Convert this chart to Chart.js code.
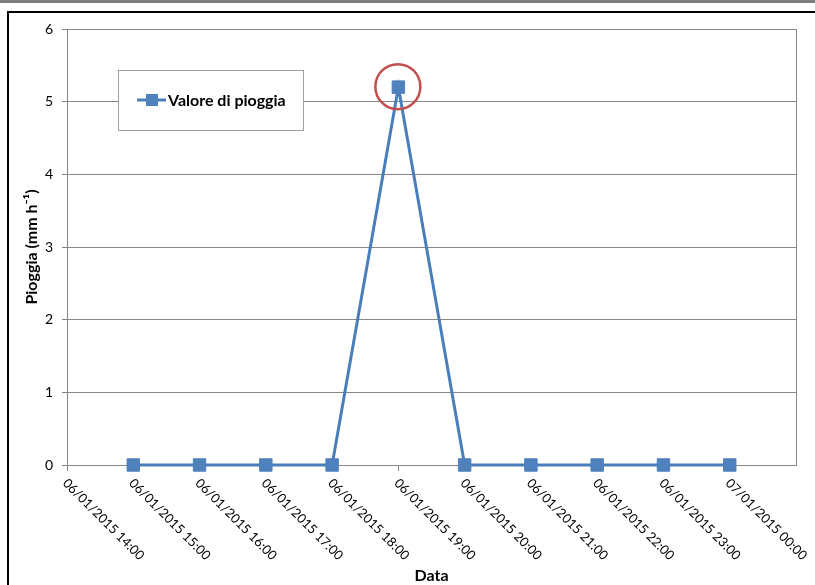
<!DOCTYPE html>
<html>
<head>
<meta charset="utf-8">
<script src="https://cdn.jsdelivr.net/npm/chart.js@4/dist/chart.umd.min.js"></script>
<style>
  html, body { margin: 0; padding: 0; background: #fff; }
  #wrap { position: relative; width: 815px; height: 585px; overflow: hidden; }
  #c { position: absolute; left: 0; top: 0; }
  .bar { position: absolute; left: 0; top: 0; width: 815px; height: 3px; background: #7f7f7f; }
  .frameTop { position: absolute; left: 7px; top: 11px; width: 808px; height: 2px; background: #000; }
  .frameLeft { position: absolute; left: 7px; top: 11px; width: 2px; height: 574px; background: #000; }
</style>
</head>
<body>
<div id="wrap">
  <canvas id="c" width="815" height="585"></canvas>
  <div class="bar"></div>
  <div class="frameTop"></div>
  <div class="frameLeft"></div>
</div>
<script>
// ---- data ----
const timeLabels = [
  '06/01/2015 14:00', '06/01/2015 15:00', '06/01/2015 16:00', '06/01/2015 17:00',
  '06/01/2015 18:00', '06/01/2015 19:00', '06/01/2015 20:00', '06/01/2015 21:00',
  '06/01/2015 22:00', '06/01/2015 23:00', '07/01/2015 00:00'
];
const rainValues = [null, 0, 0, 0, 0, 5.2, 0, 0, 0, 0, 0];
const seriesName = 'Valore di pioggia';
const yTitle = 'Pioggia (mm h\u207B\u00B9)';
const xTitle = 'Data';
const yTicks = [0, 1, 2, 3, 4, 5, 6];

const FONT = 'Lato, Carlito, Calibri, "Liberation Sans", sans-serif';
const LINE = '#4a7ebb';
const MARK = '#4f81bd';
const GRID = '#868686';

const points = rainValues.map((v, i) => ({ x: i, y: v }));

const xLabelsPlugin = {
  id: 'xLabels',
  afterDraw(chart) {
    const xs = chart.scales.x;
    const ctx = chart.ctx;
    ctx.save();
    ctx.font = '13px ' + FONT;
    ctx.fillStyle = '#000';
    ctx.textAlign = 'left';
    ctx.textBaseline = 'middle';
    timeLabels.forEach((lab, i) => {
      const x = xs.getPixelForValue(i);
      ctx.save();
      ctx.translate(x - 2, xs.top + 16);
      ctx.rotate(Math.PI / 4);
      ctx.fillText(lab, 0, 0);
      ctx.restore();
    });
    ctx.restore();
  }
};

const frameAndHighlight = {
  id: 'frameAndHighlight',
  beforeDatasetsDraw(chart) {
    const a = chart.chartArea;
    const ctx = chart.ctx;
    ctx.save();
    ctx.strokeStyle = GRID;
    ctx.lineWidth = 1;
    ctx.beginPath();
    ctx.moveTo(Math.round(a.right) + 0.5, a.top);
    ctx.lineTo(Math.round(a.right) + 0.5, a.bottom);
    ctx.stroke();
    ctx.restore();
  },
  afterDatasetsDraw(chart) {
    const ctx = chart.ctx;
    // highlight circle around the maximum value
    const maxI = rainValues.reduce((b, v, i) =>
      (v !== null && (rainValues[b] === null || v > rainValues[b]) ? i : b), 0);
    const p = chart.getDatasetMeta(0).data[maxI];
    ctx.save();
    ctx.strokeStyle = '#c0504d';
    ctx.lineWidth = 2.5;
    ctx.beginPath();
    ctx.arc(p.x - 0.5, p.y - 0.5, 22.5, 0, Math.PI * 2);
    ctx.stroke();
    ctx.restore();

    // legend box
    ctx.save();
    ctx.fillStyle = '#fff';
    ctx.fillRect(118, 70, 185, 60);
    ctx.strokeStyle = '#a0a0a0';
    ctx.lineWidth = 1;
    ctx.strokeRect(118.5, 70.5, 185, 60);
    ctx.strokeStyle = LINE;
    ctx.lineWidth = 3;
    ctx.beginPath();
    ctx.moveTo(137, 100);
    ctx.lineTo(166, 100);
    ctx.stroke();
    ctx.fillStyle = MARK;
    ctx.fillRect(146, 94, 12, 12);
    ctx.fillStyle = '#000';
    ctx.font = 'bold 16px ' + FONT;
    ctx.textAlign = 'left';
    ctx.textBaseline = 'middle';
    ctx.fillText(chart.data.datasets[0].label, 168, 101);
    ctx.restore();
  }
};

new Chart(document.getElementById('c'), {
  type: 'line',
  data: {
    datasets: [{
      label: seriesName,
      data: points,
      borderColor: LINE,
      borderWidth: 3,
      backgroundColor: MARK,
      pointStyle: 'rect',
      pointRadius: 8.8,
      pointBackgroundColor: MARK,
      pointBorderColor: MARK,
      pointBorderWidth: 1,
      tension: 0,
      spanGaps: false,
      clip: false
    }]
  },
  options: {
    responsive: false,
    animation: false,
    devicePixelRatio: 1,
    layout: { padding: { top: 29, right: 19, left: 0, bottom: 0 } },
    plugins: {
      legend: { display: false },
      tooltip: { enabled: false }
    },
    scales: {
      x: {
        type: 'linear',
        min: 0,
        max: timeLabels.length,
        afterBuildTicks(s) {
          s.ticks = timeLabels.map((_, i) => ({ value: i }));
        },
        afterFit(s) { s.height = 120; },
        ticks: { display: false, stepSize: 1 },
        grid: { display: true, drawOnChartArea: false, drawTicks: true, tickLength: 6, color: GRID },
        border: { display: true, color: GRID, width: 1 },
        title: {
          display: true, text: xTitle, color: '#000',
          font: { family: FONT, size: 16, weight: 'bold' },
          padding: { top: -6, bottom: 0 }
        }
      },
      y: {
        min: 0,
        max: 6,
        afterBuildTicks(s) { s.ticks = yTicks.map(v => ({ value: v })); },
        afterFit(s) { s.width = 67; },
        ticks: {
          stepSize: 1, color: '#000', padding: 9,
          font: { family: FONT, size: 14 }
        },
        grid: { color: GRID, tickLength: 5, lineWidth: 1 },
        border: { display: true, color: GRID, width: 1 },
        title: {
          display: true, text: yTitle, color: '#000',
          font: { family: FONT, size: 16, weight: 'bold' },
          padding: { top: 22, bottom: 0 }
        }
      }
    }
  },
  plugins: [xLabelsPlugin, frameAndHighlight]
});
</script>
</body>
</html>
